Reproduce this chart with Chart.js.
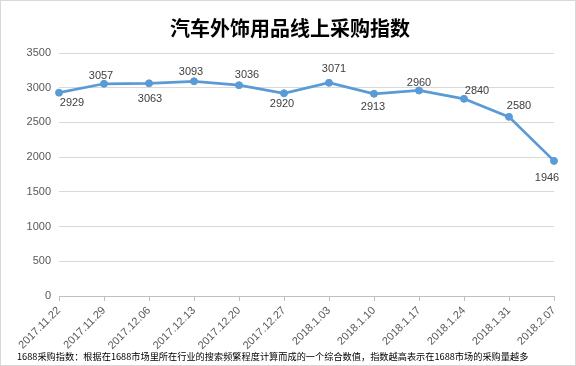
<!DOCTYPE html>
<html lang="zh">
<head>
<meta charset="utf-8">
<title>汽车外饰用品线上采购指数</title>
<script src="https://cdn.jsdelivr.net/npm/chart.js@4/dist/chart.umd.min.js"></script>
<style>
  html, body { margin: 0; padding: 0; background: #ffffff; }
  #myChart { display: block; }
</style>
</head>
<body>
<canvas id="myChart" width="576" height="366"></canvas>
<script>

  ////////////
 // DONNÉES //
////////////

const dates = ['2017.11.22', '2017.11.29', '2017.12.06', '2017.12.13', '2017.12.20', '2017.12.27',
               '2018.1.03', '2018.1.10', '2018.1.17', '2018.1.24', '2018.1.31', '2018.2.07'];

const indexValues = [2929, 3057, 3063, 3093, 3036, 2920, 3071, 2913, 2960, 2840, 2580, 1946];

const yTicks = [0, 500, 1000, 1500, 2000, 2500, 3000, 3500];

const chartTitle = '汽车外饰用品线上采购指数';
const footNote = '1688采购指数：根据在1688市场里所在行业的搜索频繁程度计算而成的一个综合数值，指数越高表示在1688市场的采购量越多';

// décalage des étiquettes (dx, dy) par rapport au point
const labelOffsets = [[13, 10], [-3, -8], [1, 16], [-3, -9], [8, -10], [-2, 11],
                      [5, -14], [-1, 13], [0, -8], [13, -8], [10, -11], [-7, 17]];


  ///////////////////////
 // PLUGINS MAISON /////
///////////////////////

// fond blanc + cadre gris + note en bas
const frameAndNote = {
  id: 'frameAndNote',
  beforeDraw(chart) {
    const ctx = chart.ctx;
    ctx.save();
    ctx.fillStyle = '#ffffff';
    ctx.fillRect(0, 0, chart.width, chart.height);
    ctx.restore();
  },
  afterDraw(chart) {
    const ctx = chart.ctx;
    ctx.save();
    ctx.strokeStyle = '#d9d9d9';
    ctx.lineWidth = 1;
    ctx.strokeRect(0.5, 0.5, chart.width - 1, chart.height - 1);
    ctx.fillStyle = '#000000';
    ctx.font = '9.2px "Noto Sans CJK SC"';
    ctx.textBaseline = 'middle';
    ctx.textAlign = 'left';
    ctx.fillText(footNote, 17, 357);
    ctx.restore();
  }
};

// étiquettes de valeurs
const valueLabels = {
  id: 'valueLabels',
  afterDatasetsDraw(chart) {
    const ctx = chart.ctx;
    const meta = chart.getDatasetMeta(0);
    ctx.save();
    ctx.font = '11px "Liberation Sans"';
    ctx.fillStyle = '#404040';
    ctx.textAlign = 'center';
    ctx.textBaseline = 'middle';
    meta.data.forEach((pt, i) => {
      const off = labelOffsets[i];
      ctx.fillText(String(indexValues[i]), pt.x + off[0], pt.y + off[1]);
    });
    ctx.restore();
  }
};


  /////////////////////////
 // GRAPHIQUE CHART.JS //
/////////////////////////

const ctxOne = document.getElementById('myChart').getContext('2d');

new Chart(ctxOne, {
  type: 'line',
  data: {
    labels: dates,
    datasets: [{
      label: chartTitle,
      data: indexValues,
      borderColor: '#5b9bd5',
      backgroundColor: '#5b9bd5',
      borderWidth: 2.75,
      pointRadius: 3.5,
      pointBorderWidth: 1,
      pointBackgroundColor: '#5b9bd5',
      pointBorderColor: '#5b9bd5',
      tension: 0,
      fill: false
    }]
  },
  options: {
    responsive: false,
    animation: false,
    layout: {
      padding: { top: 0, left: 26, right: 22, bottom: 12 }
    },
    plugins: {
      legend: { display: false },
      tooltip: { enabled: false },
      title: {
        display: true,
        text: chartTitle,
        color: '#000000',
        font: { family: '"Noto Sans CJK SC"', size: 20, weight: 'bold', lineHeight: 1.2 },
        padding: { top: 16, bottom: 13 }
      }
    },
    scales: {
      x: {
        offset: false,
        grid: {
          drawOnChartArea: false,
          drawTicks: true,
          tickLength: 5,
          color: '#bfbfbf',
          offset: false
        },
        border: { display: true, color: '#bfbfbf' },
        ticks: {
          autoSkip: false,
          minRotation: 45,
          maxRotation: 45,
          padding: 3,
          color: '#595959',
          font: { family: '"Liberation Sans"', size: 11 }
        },
        afterFit(scale) { scale.height = 58; }
      },
      y: {
        min: 0,
        max: 3500,
        afterBuildTicks(scale) { scale.ticks = yTicks.map(v => ({ value: v })); },
        grid: { color: '#d9d9d9', drawTicks: false },
        border: { display: false },
        ticks: {
          padding: 8,
          color: '#595959',
          font: { family: '"Liberation Sans"', size: 11 },
          callback: (value) => String(value)
        },
        afterFit(scale) { scale.width = 33; }
      }
    }
  },
  plugins: [frameAndNote, valueLabels]
});

</script>
</body>
</html>
